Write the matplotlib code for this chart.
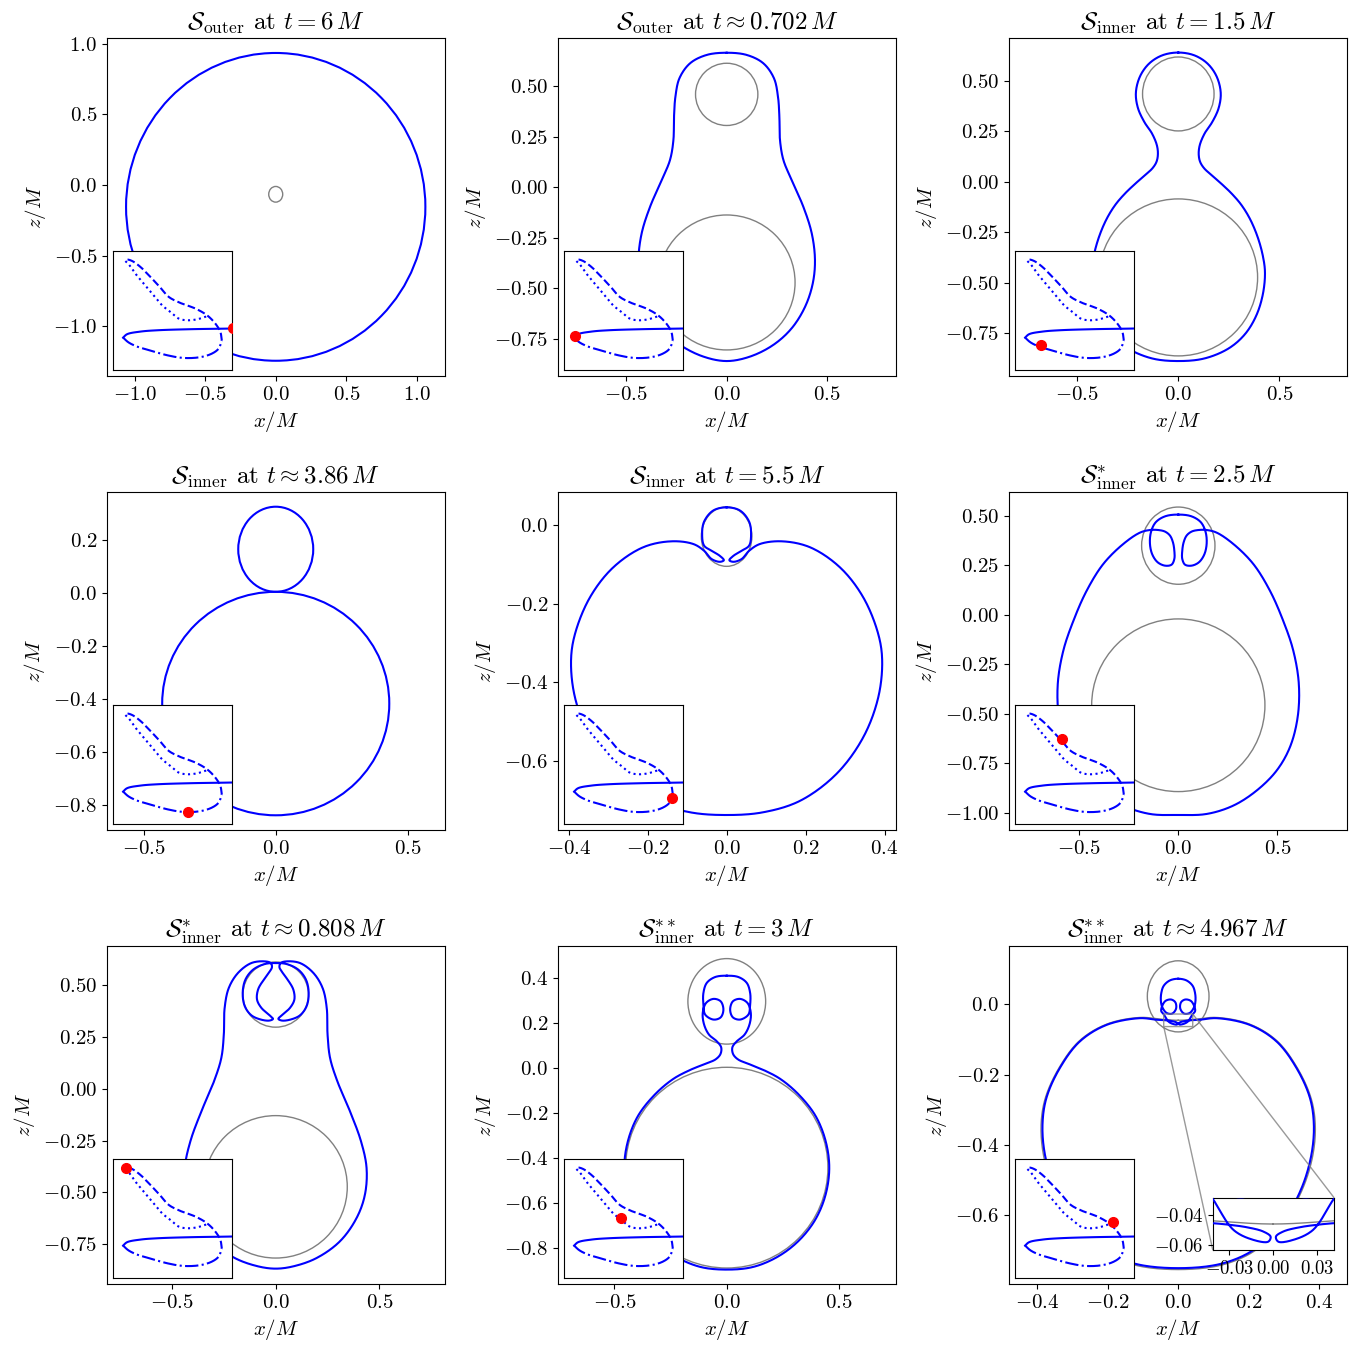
import numpy as np
import matplotlib
matplotlib.use('Agg')
import matplotlib.pyplot as plt
from matplotlib.patches import Ellipse
from matplotlib.ticker import MultipleLocator

plt.rcParams.update({
    'mathtext.fontset': 'cm',
    'font.family': 'serif',
    'font.serif': ['cmr10', 'DejaVu Serif'],
    'axes.formatter.use_mathtext': True,
    'font.size': 15,
    'axes.unicode_minus': True,
})

titles = [
    r'$\mathcal{S}_{\rm outer}$ at $t = 6\,M$',
    r'$\mathcal{S}_{\rm outer}$ at $t \approx 0.702\,M$',
    r'$\mathcal{S}_{\rm inner}$ at $t = 1.5\,M$',
    r'$\mathcal{S}_{\rm inner}$ at $t \approx 3.86\,M$',
    r'$\mathcal{S}_{\rm inner}$ at $t = 5.5\,M$',
    r'$\mathcal{S}^{*}_{\rm inner}$ at $t = 2.5\,M$',
    r'$\mathcal{S}^{*}_{\rm inner}$ at $t \approx 0.808\,M$',
    r'$\mathcal{S}^{**}_{\rm inner}$ at $t = 3\,M$',
    r'$\mathcal{S}^{**}_{\rm inner}$ at $t \approx 4.967\,M$',
]
xlims = [(-1.195, 1.199), (-0.839, 0.842), (-0.838, 0.835),
         (-0.639, 0.641), (-0.427, 0.429), (-0.854, 0.851),
         (-0.813, 0.816), (-0.751, 0.753), (-0.480, 0.479)]
ylims = [(-1.353, 1.041), (-0.934, 0.739), (-0.962, 0.711),
         (-0.894, 0.381), (-0.774, 0.083), (-1.086, 0.621),
         (-0.941, 0.687), (-0.960, 0.542), (-0.795, 0.165)]
xsteps = [0.5, 0.5, 0.5, 0.5, 0.2, 0.5, 0.5, 0.5, 0.2]
ysteps = [0.5, 0.25, 0.25, 0.2, 0.2, 0.25, 0.25, 0.2, 0.2]

# blue MOTS profiles: right half (x >= 0), from the top axis point to the bottom one
p2_blue = [(0, 0.666), (0.1, 0.655), (0.182, 0.614), (0.235, 0.54), (0.255, 0.449),
           (0.262, 0.35), (0.265, 0.234), (0.282, 0.135), (0.323, 0.036), (0.381, -0.096),
           (0.423, -0.228), (0.439, -0.36), (0.428, -0.476), (0.39, -0.591), (0.323, -0.698),
           (0.232, -0.78), (0.116, -0.838), (0, -0.86)]
p3_blue = [(0, 0.639), (0.08, 0.625), (0.145, 0.584), (0.19, 0.52), (0.21, 0.44),
           (0.2, 0.365), (0.168, 0.295), (0.13, 0.238), (0.106, 0.18), (0.101, 0.135),
           (0.108, 0.098), (0.128, 0.066), (0.165, 0.032), (0.215, -0.012), (0.265, -0.06),
           (0.312, -0.115), (0.355, -0.185), (0.392, -0.272), (0.418, -0.365), (0.429, -0.45),
           (0.418, -0.56), (0.385, -0.665), (0.33, -0.755), (0.25, -0.825), (0.13, -0.875),
           (0, -0.888)]
p5_blue = [(0, 0.044), (0.034, 0.036), (0.057, 0.008), (0.062, -0.024), (0.057, -0.053),
           (0.038, -0.066), (0.017, -0.079), (0.007, -0.09), (0.017, -0.094), (0.038, -0.087),
           (0.057, -0.066), (0.084, -0.049), (0.139, -0.042), (0.211, -0.057), (0.287, -0.108),
           (0.346, -0.184), (0.384, -0.277), (0.394, -0.345), (0.384, -0.438), (0.346, -0.539),
           (0.278, -0.632), (0.186, -0.7), (0.093, -0.729), (0, -0.736)]
p6_blue = [(0, 0.507), (0.067, 0.498), (0.114, 0.468), (0.138, 0.418), (0.143, 0.359),
           (0.131, 0.305), (0.104, 0.266), (0.067, 0.249), (0.034, 0.254), (0.02, 0.283),
           (0.02, 0.325), (0.027, 0.367), (0.042, 0.401), (0.067, 0.421), (0.101, 0.429),
           (0.143, 0.429), (0.193, 0.416), (0.277, 0.359), (0.378, 0.258), (0.462, 0.123),
           (0.529, -0.029), (0.58, -0.18), (0.608, -0.348), (0.602, -0.517), (0.563, -0.668),
           (0.496, -0.786), (0.395, -0.887), (0.277, -0.963), (0.143, -1.005), (0, -1.01)]
p7_blue = [(0, 0.605), (0.053, 0.6), (0.109, 0.573), (0.146, 0.525), (0.159, 0.461),
           (0.149, 0.397), (0.117, 0.353), (0.069, 0.332), (0.029, 0.328), (0.013, 0.336),
           (0.029, 0.353), (0.069, 0.389), (0.09, 0.429), (0.085, 0.477), (0.061, 0.52),
           (0.034, 0.557), (0.018, 0.585), (0.024, 0.605), (0.053, 0.613), (0.117, 0.605),
           (0.181, 0.558), (0.226, 0.485), (0.246, 0.389), (0.25, 0.26), (0.262, 0.148),
           (0.297, 0.036), (0.358, -0.109), (0.411, -0.253), (0.438, -0.382), (0.43, -0.511),
           (0.39, -0.623), (0.31, -0.735), (0.197, -0.816), (0.085, -0.856), (0, -0.867)]
p8_blue = [(0, 0.41), (0.052, 0.404), (0.089, 0.378), (0.104, 0.333), (0.104, 0.281),
           (0.096, 0.237), (0.059, 0.215), (0.027, 0.225), (0.015, 0.259), (0.027, 0.296),
           (0.059, 0.307), (0.092, 0.289), (0.107, 0.244), (0.101, 0.193), (0.079, 0.148),
           (0.045, 0.119), (0.025, 0.092), (0.028, 0.062), (0.05, 0.038), (0.1, 0.017),
           (0.17, -0.012), (0.24, -0.05), (0.32, -0.118), (0.395, -0.213), (0.44, -0.325),
           (0.456, -0.443), (0.44, -0.562), (0.395, -0.672), (0.322, -0.766), (0.228, -0.838),
           (0.118, -0.884), (0, -0.896)]
p9_blue = [(0, 0.072), (0.024, 0.067), (0.041, 0.052), (0.048, 0.031), (0.049, 0.008),
           (0.045, -0.009), (0.033, -0.025), (0.017, -0.027), (0.006, -0.013), (0.008, 0.005),
           (0.02, 0.013), (0.036, 0.009), (0.046, -0.007), (0.048, -0.02), (0.041, -0.029),
           (0.027, -0.05), (0.0135, -0.0568), (0.0034, -0.058), (0.0018, -0.0546),
           (0.0068, -0.0511), (0.018, -0.0482), (0.03, -0.0465), (0.0417, -0.0454),
           (0.061, -0.0445), (0.109, -0.04), (0.203, -0.059), (0.279, -0.106), (0.336, -0.182),
           (0.374, -0.267), (0.385, -0.343), (0.378, -0.428), (0.35, -0.523), (0.298, -0.617),
           (0.222, -0.693), (0.128, -0.736), (0, -0.75)]
p9_grey = [(0, -0.046), (0.04, -0.0439), (0.109, -0.038), (0.203, -0.057), (0.28, -0.104),
           (0.338, -0.181), (0.377, -0.267), (0.389, -0.343), (0.382, -0.43), (0.353, -0.525),
           (0.3, -0.62), (0.223, -0.697), (0.128, -0.74), (0, -0.754)]

# near-elliptic curves: (x0, z0, width, height)
p1_blue_ell = [(0.0, -0.155, 2.12, 2.18)]
p4_blue_ell = [(0.0, 0.165, 0.284, 0.321), (0.0, -0.417, 0.86, 0.843)]
p1_grey = [(0.0, -0.066, 0.099, 0.111)]
p2_grey = [(0.0, 0.46, 0.31, 0.308), (0.0, -0.471, 0.68, 0.668)]
p3_grey = [(0.0, 0.434, 0.354, 0.366), (0.0, -0.474, 0.785, 0.777)]
p5_grey = [(0.0, -0.030, 0.128, 0.151)]
p6_grey = [(0.0, 0.35, 0.37, 0.39), (0.0, -0.456, 0.874, 0.872)]
p7_grey = [(0.0, 0.453, 0.316, 0.314), (0.0, -0.473, 0.69, 0.686)]
p8_grey = [(0.0, 0.296, 0.346, 0.38), (0.0, -0.443, 0.9, 0.892)]
p9_grey_ell = [(0.0, 0.022, 0.175, 0.202)]

# small inset: the branch diagram (arbitrary units), same in every panel
branch_solid = [(1.10, 0.352), (0.958, 0.349), (0.65, 0.344), (0.372, 0.335),
                (0.232, 0.324), (0.12, 0.302), (0.087, 0.274)]
branch_dashdot = [(0.087, 0.274), (0.13, 0.235), (0.2, 0.2), (0.316, 0.165), (0.455, 0.126),
                  (0.595, 0.103), (0.735, 0.11), (0.832, 0.14), (0.888, 0.182), (0.914, 0.25)]
branch_dashed = [(0.914, 0.25), (0.902, 0.321), (0.86, 0.391), (0.79, 0.461), (0.693, 0.517),
                 (0.567, 0.564), (0.469, 0.615), (0.399, 0.693), (0.316, 0.782),
                 (0.232, 0.866), (0.162, 0.916), (0.12, 0.927), (0.106, 0.915)]
branch_dotted = [(0.106, 0.915), (0.134, 0.888), (0.19, 0.81), (0.26, 0.726), (0.344, 0.628),
                 (0.413, 0.545), (0.483, 0.489), (0.553, 0.433), (0.623, 0.419),
                 (0.707, 0.427), (0.80, 0.456)]
dots = [(1.01, 0.35), (0.092, 0.285), (0.224, 0.21), (0.629, 0.103), (0.908, 0.224),
        (0.397, 0.712), (0.111, 0.922), (0.478, 0.503), (0.824, 0.475)]


def smooth(pts, closed=False, n=20):
    # centripetal Catmull-Rom through the read-off points
    p = np.asarray(pts, float)
    if closed:
        p = np.vstack([p[-1], p, p[0], p[1]])
    else:
        p = np.vstack([2 * p[0] - p[1], p, 2 * p[-1] - p[-2]])
    out = []
    for i in range(len(p) - 3):
        p0, p1, p2, p3 = p[i:i + 4]
        t0 = 0.0
        t1 = t0 + np.linalg.norm(p1 - p0) ** 0.5 + 1e-12
        t2 = t1 + np.linalg.norm(p2 - p1) ** 0.5 + 1e-12
        t3 = t2 + np.linalg.norm(p3 - p2) ** 0.5 + 1e-12
        t = np.linspace(t1, t2, n, endpoint=False)[:, None]
        a1 = (t1 - t) / (t1 - t0) * p0 + (t - t0) / (t1 - t0) * p1
        a2 = (t2 - t) / (t2 - t1) * p1 + (t - t1) / (t2 - t1) * p2
        a3 = (t3 - t) / (t3 - t2) * p2 + (t - t2) / (t3 - t2) * p3
        b1 = (t2 - t) / (t2 - t0) * a1 + (t - t0) / (t2 - t0) * a2
        b2 = (t3 - t) / (t3 - t1) * a2 + (t - t1) / (t3 - t1) * a3
        out.append((t2 - t) / (t2 - t1) * b1 + (t - t1) / (t2 - t1) * b2)
    out.append(p[1:2] if closed else p[-2:-1])
    return np.vstack(out)


def mirrored(half):
    h = np.asarray(half, float)
    left = h[-2:0:-1] * np.array([-1.0, 1.0])
    return smooth(np.vstack([h, left]), closed=True)


def draw_ells(ax, ells, color, lw, z):
    for (x0, z0, w, h) in ells:
        ax.add_patch(Ellipse((x0, z0), w, h, fill=False, ec=color, lw=lw, zorder=z))


blue_profiles = [None, p2_blue, p3_blue, None, p5_blue, p6_blue, p7_blue, p8_blue, p9_blue]
blue_ells = [p1_blue_ell, [], [], p4_blue_ell, [], [], [], [], []]
grey_ells = [p1_grey, p2_grey, p3_grey, [], p5_grey, p6_grey, p7_grey, p8_grey, p9_grey_ell]

fig = plt.figure(figsize=(13.59, 13.47), dpi=100)
lefts = [107, 558, 1009]
tops = [38, 492, 946]
W, H = 1359.0, 1347.0

for k in range(9):
    r, c = divmod(k, 3)
    ax = fig.add_axes([lefts[c] / W, (H - tops[r] - 338) / H, 338 / W, 338 / H])

    def draw_shapes(a):
        draw_ells(a, grey_ells[k], 'grey', 1.0, 2)
        if k == 8:
            g = mirrored(p9_grey)
            a.plot(g[:, 0], g[:, 1], color='grey', lw=1.0, zorder=2)
        draw_ells(a, blue_ells[k], 'blue', 1.5, 3)
        if blue_profiles[k] is not None:
            b = mirrored(blue_profiles[k])
            a.plot(b[:, 0], b[:, 1], color='blue', lw=1.5, zorder=3)

    draw_shapes(ax)
    ax.set_xlim(*xlims[k])
    ax.set_ylim(*ylims[k])
    ax.xaxis.set_major_locator(MultipleLocator(xsteps[k]))
    ax.yaxis.set_major_locator(MultipleLocator(ysteps[k]))
    ax.set_title(titles[k], fontsize=18)
    ax.set_xlabel(r'$x/M$')
    ax.set_ylabel(r'$z/M$')

    # branch diagram inset
    ins = ax.inset_axes([0.017, 0.017, 0.353, 0.353])
    ins.set_zorder(5)
    for seg, ls in [(branch_solid, '-'), (branch_dashdot, '-.'),
                    (branch_dashed, '--'), (branch_dotted, ':')]:
        s = smooth(seg)
        ins.plot(s[:, 0], s[:, 1], color='blue', lw=1.5, ls=ls)
    ins.plot(*dots[k], 'o', color='red', ms=7, zorder=5)
    ins.set_xlim(0, 1)
    ins.set_ylim(0, 1)
    ins.set_xticks([])
    ins.set_yticks([])

    if k == 8:
        zin = ax.inset_axes([0.603, 0.1, 0.359, 0.155])
        zin.set_zorder(5)
        draw_shapes(zin)
        zin.set_xlim(-0.041, 0.0413)
        zin.set_ylim(-0.0638, -0.0282)
        zin.set_xticks([-0.03, 0.0, 0.03])
        zin.set_yticks([-0.04, -0.06])
        zin.tick_params(labelsize=13.5)
        ax.indicate_inset_zoom(zin, edgecolor='grey', alpha=0.8)

fig.savefig('out.png', dpi=100)
